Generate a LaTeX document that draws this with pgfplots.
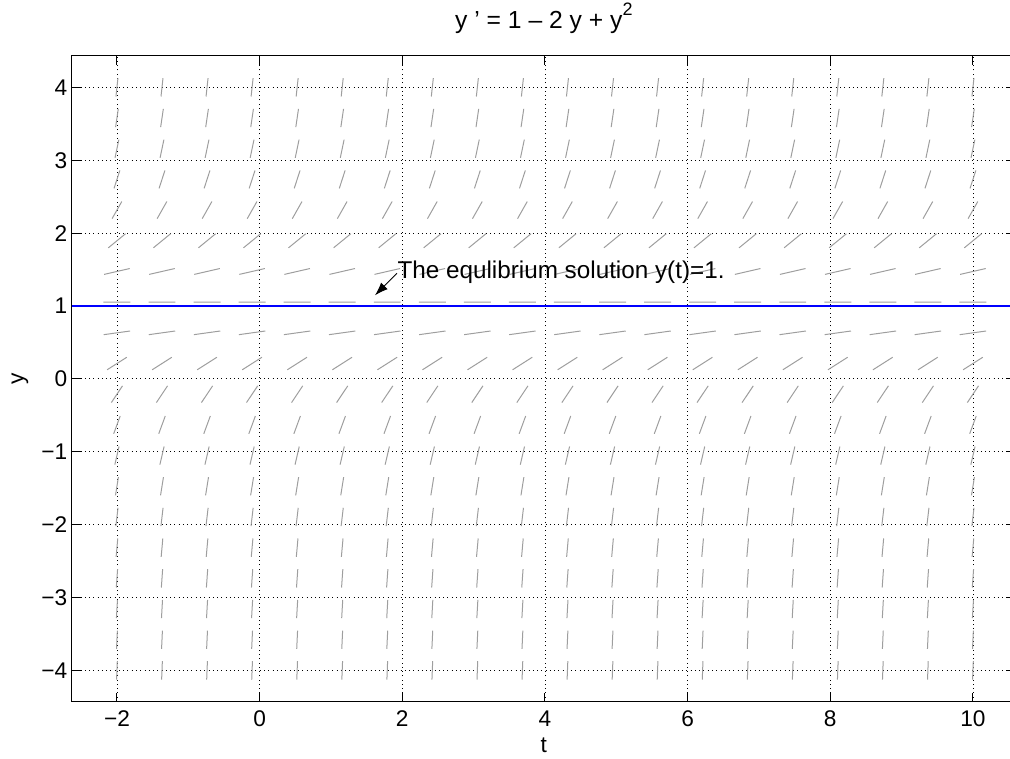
\documentclass[border=0pt]{standalone}
\usepackage{fontspec}
\setmainfont{Liberation Sans}
\usepackage{pgfplots}
\usepackage{pgfplotstable}
\pgfplotsset{compat=1.18}
\usetikzlibrary{arrows.meta}

% Direction field rows for y' = (1-y)^2: row height y and the half
% extents (hu, hv) of the unit slope segment drawn at each grid point.
\pgfplotstableread{
y        hu       hv
-4.0000  0.00504  0.12596
-3.5789  0.00601  0.12594
-3.1579  0.00728  0.12591
-2.7368  0.00901  0.12586
-2.3158  0.01144  0.12577
-1.8947  0.01499  0.12560
-1.4737  0.02047  0.12526
-1.0526  0.02954  0.12445
-0.6316  0.04591  0.12223
-0.2105  0.07827  0.11469
 0.2105  0.13806  0.08605
 0.6316  0.18520  0.02513
 1.0526  0.18900  0.00052
 1.4737  0.17913  0.04020
 1.8947  0.12095  0.09682
 2.3158  0.06792  0.11759
 2.7368  0.04079  0.12303
 3.1579  0.02679  0.12473
 3.5789  0.01885  0.12537
 4.0000  0.01396  0.12565
}\fieldrows

\newcommand{\lblfont}{\fontsize{17}{20}\selectfont}
\newcommand{\ttlfont}{\fontsize{18.5}{22}\selectfont}
\newcommand{\txtfont}{\fontsize{18.2}{22}\selectfont}

\begin{document}
\begin{tikzpicture}
\useasboundingbox (-54pt,-42.2pt) rectangle (703.5pt,526.3pt);
\begin{axis}[
  at={(0,0)}, anchor=south west, scale only axis,
  width=707.8pt, height=484.3pt,
  xmin=-2.63, xmax=10.6, ymin=-4.43, ymax=4.43,
  xtick={-2,0,2,4,6,8,10},
  ytick={-4,-3,-2,-1,0,1,2,3,4},
  xticklabels={−2,0,2,4,6,8,10},
  yticklabels={−4,−3,−2,−1,0,1,2,3,4},
  tick align=inside, tick pos=both,
  major tick length=6.5pt,
  tick style={black, line width=0.75pt},
  grid=major,
  major grid style={black, line width=0.6pt, dash pattern=on 0.6pt off 2.6pt},
  axis line style={black, line width=0.75pt},
  tick label style={font=\lblfont},
  xticklabel style={yshift=-3pt},
  title={y ' = 1 – 2 y + y\raisebox{0.5em}{\fontsize{13.5}{14}\selectfont 2}},
  title style={font=\ttlfont, at={(axis description cs:0.5,1.0306)}, anchor=base},
  xlabel={t},
  xlabel style={font=\lblfont, at={(axis description cs:0.5,-0.079)}, anchor=base},
  ylabel={y},
  ylabel style={font=\lblfont, at={(axis description cs:-0.0551,0.5)}, anchor=center},
  clip=true,
]
% slope segments, one column of the grid at a time
\pgfplotsinvokeforeach{-2,-1.3684,-0.7368,-0.1053,0.5263,1.1579,1.7895,2.4211,3.0526,3.6842,4.3158,4.9474,5.5789,6.2105,6.8421,7.4737,8.1053,8.7368,9.3684,10}{
  \addplot[black!38, line width=0.75pt, -,
    quiver={u=2*\thisrow{hu}, v=2*\thisrow{hv}}]
    table[x expr=#1-\thisrow{hu}, y expr=\thisrow{y}-\thisrow{hv}] {\fieldrows};
}
% equilibrium solution
\addplot[blue, line width=1pt] coordinates {(-2.63,1) (10.6,1)};
\draw[black, line width=0.75pt, -{Latex[length=10pt,width=7pt]}]
  (axis cs:1.925,1.448) -- (axis cs:1.617,1.146);
\node[anchor=west, inner sep=0pt, font=\txtfont] at (axis cs:1.93,1.46)
  {The equlibrium solution y(t)=1.};
\end{axis}
\end{tikzpicture}
\end{document}
